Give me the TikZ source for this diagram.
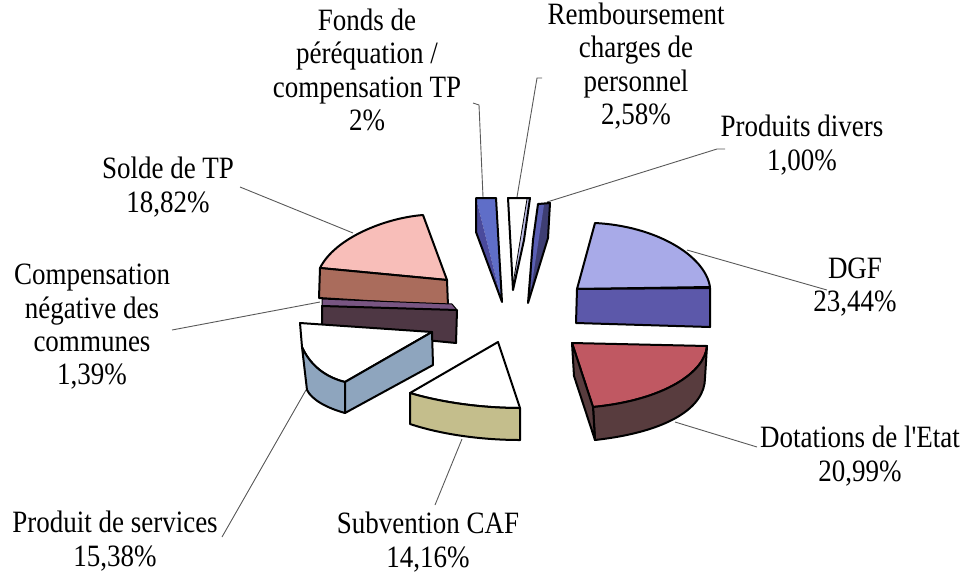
\documentclass[tikz,border=0pt]{standalone}
\usepackage{fontspec}
\setmainfont{Liberation Serif}
\usetikzlibrary{positioning}
\definecolor{dgftop}{HTML}{A8AAE8}
\definecolor{dgfside}{HTML}{5C58AA}
\definecolor{dottop}{HTML}{C05862}
\definecolor{dotside}{HTML}{583C3E}
\definecolor{subvside}{HTML}{C4BE8C}
\definecolor{prodside}{HTML}{8EA5BE}
\definecolor{soldetop}{HTML}{F8BEB9}
\definecolor{soldeside}{HTML}{AA6C5C}
\definecolor{comptop}{HTML}{785582}
\definecolor{compside}{HTML}{4E3744}
\definecolor{fondstop}{HTML}{5F6EC8}
\definecolor{fondsside}{HTML}{4A4A9C}
\definecolor{rembside}{HTML}{BEBEE6}
\definecolor{diverstop}{HTML}{5A5FB4}
\definecolor{diversside}{HTML}{3E3E73}

\tikzset{
  lbl/.style={font=\fontsize{27}{29}\selectfont, align=center, yscale=1.15, inner sep=0pt},
  lead/.style={draw=black!65, line width=0.9pt},
  face/.style={draw=black, line width=2pt, line join=round}
}

\begin{document}
\begin{tikzpicture}[x=1pt, y=-1pt]
    \useasboundingbox (0,0) rectangle (963,574);

    % Labels
    \node[lbl] (fonds) at (367,70) {Fonds de\\péréquation /\\compensation TP\\2\%};
    \node[lbl] (remb) at (636,66) {Remboursement\\charges de\\personnel\\2,58\%};
    \node[lbl] (divers) at (802,145) {Produits divers\\1,00\%};
    \node[lbl] (solde) at (168,187) {Solde de TP\\18,82\%};
    \node[lbl] (comp) at (92,327) {Compensation\\négative des\\communes\\1,39\%};
    \node[lbl] (dgf) at (855,287) {DGF\\23,44\%};
    \node[lbl] (dot) at (860,456) {Dotations de l\textquotesingle Etat\\20,99\%};
    \node[lbl] (prod) at (115,541) {Produit de services\\15,38\%};
    \node[lbl] (subv) at (428,542) {Subvention CAF\\14,16\%};

    % Leader line ends
    \coordinate (soldeA) at (240,187);   \coordinate (soldeB) at (353,233);
    \coordinate (compA) at (172,330);    \coordinate (compB) at (320,302);
    \coordinate (prodA) at (222,537);    \coordinate (prodB) at (306,390);
    \coordinate (subvA) at (435,505);    \coordinate (subvB) at (462,439);
    \coordinate (dotA) at (757,447);     \coordinate (dotB) at (675,422);
    \coordinate (dgfA) at (827,290);     \coordinate (dgfB) at (687,250);
    \coordinate (diversA) at (725,149);  \coordinate (diversB) at (547,202);
    \coordinate (rembA) at (542,78);     \coordinate (rembB) at (517,197);
    \coordinate (fondsA) at (473,103);   \coordinate (fondsB) at (483,197);

    \draw[lead] (soldeA) -- (soldeB);
    \draw[lead] (compA) -- (compB);
    \draw[lead] (prodA) -- (prodB);
    \draw[lead] (subvA) -- (subvB);
    \draw[lead] (dotA) -- (dotB);
    \draw[lead] (dgfA) -- (dgfB);
    \draw[lead] (diversA) -- ++(-8,0) -- (diversB);
    \draw[lead] (rembA) -- ++(-5,0) -- (rembB);
    \draw[lead] (fondsA) -- ++(6,2) -- (fondsB);

    % Solde de TP
    \filldraw[face, fill=soldetop] (447,280) -- (423,215) .. controls (385,218) and (335,238) .. (320,268) -- cycle;
    \filldraw[face, fill=soldeside] (320,268) -- (447,280) -- (448,306) -- (319,298) -- cycle;

    % Compensation negative
    \filldraw[face, fill=comptop, line width=1pt] (322,299) -- (452,304) -- (457,310) -- (322,306) -- cycle;
    \filldraw[face, fill=compside] (322,306) -- (457,310) -- (456,343) -- (322,330) -- cycle;

    % Produit de services
    \filldraw[face, fill=white] (432,332) -- (300,323) -- (302,347) .. controls (310,365) and (325,377) .. (345,382) -- cycle;
    \filldraw[face, fill=prodside] (302,347) .. controls (310,365) and (325,377) .. (345,382) -- (345,413) .. controls (327,408) and (312,400) .. (307,390) -- cycle;
    \filldraw[face, fill=prodside] (345,382) -- (432,332) -- (433,365) -- (345,413) -- cycle;

    % Subvention CAF
    \filldraw[face, fill=white] (498,342) -- (410,393) .. controls (440,402) and (480,408) .. (520,408) -- cycle;
    \filldraw[face, fill=subvside] (410,393) .. controls (440,402) and (480,408) .. (520,408) -- (520,440) .. controls (480,440) and (440,434) .. (410,424) -- cycle;

    % Thin slices (top)
    \fill[fondstop] (476,198) -- (496,198) -- (502,302) -- cycle;
    \fill[fondsside] (476,198) -- (502,302) -- (476,232) -- cycle;
    \draw[face] (476,198) -- (496,198) -- (502,302) -- (476,232) -- cycle;
    \fill[rembside] (508,198) -- (530,198) -- (524,240) -- (513,290) -- cycle;
    \fill[white] (509,199) -- (527,199) -- (513,284) -- cycle;
    \draw[face] (508,198) -- (530,198) -- (524,240) -- (513,290) -- cycle;
    \draw[black, line width=0.8pt] (527,199) -- (513,284);
    \fill[diversside] (538,204) -- (550,203) -- (548,238) -- (528,303) -- (533,240) -- cycle;
    \fill[diverstop] (538,204) -- (544,205) -- (531,290) -- (533,240) -- cycle;
    \draw[face] (538,204) -- (550,203) -- (548,238) -- (528,303) -- (533,240) -- cycle;

    % DGF
    \filldraw[face, fill=dgftop] (577,289) -- (595,223) .. controls (655,226) and (705,255) .. (710,287) -- cycle;
    \filldraw[face, fill=dgfside] (577,289) -- (710,288) -- (710,327) -- (576,323) -- cycle;

    % Dotations de l'Etat
    \filldraw[face, fill=dottop] (572,343) -- (707,346) .. controls (705,372) and (665,400) .. (593,407) -- cycle;
    \filldraw[face, fill=dotside] (707,346) .. controls (705,372) and (665,400) .. (593,407) -- (595,440) .. controls (667,432) and (705,408) .. (705,378) -- cycle;
    \filldraw[face, fill=dotside] (572,343) -- (593,407) -- (595,440) -- (574,376) -- cycle;
\end{tikzpicture}
\end{document}
